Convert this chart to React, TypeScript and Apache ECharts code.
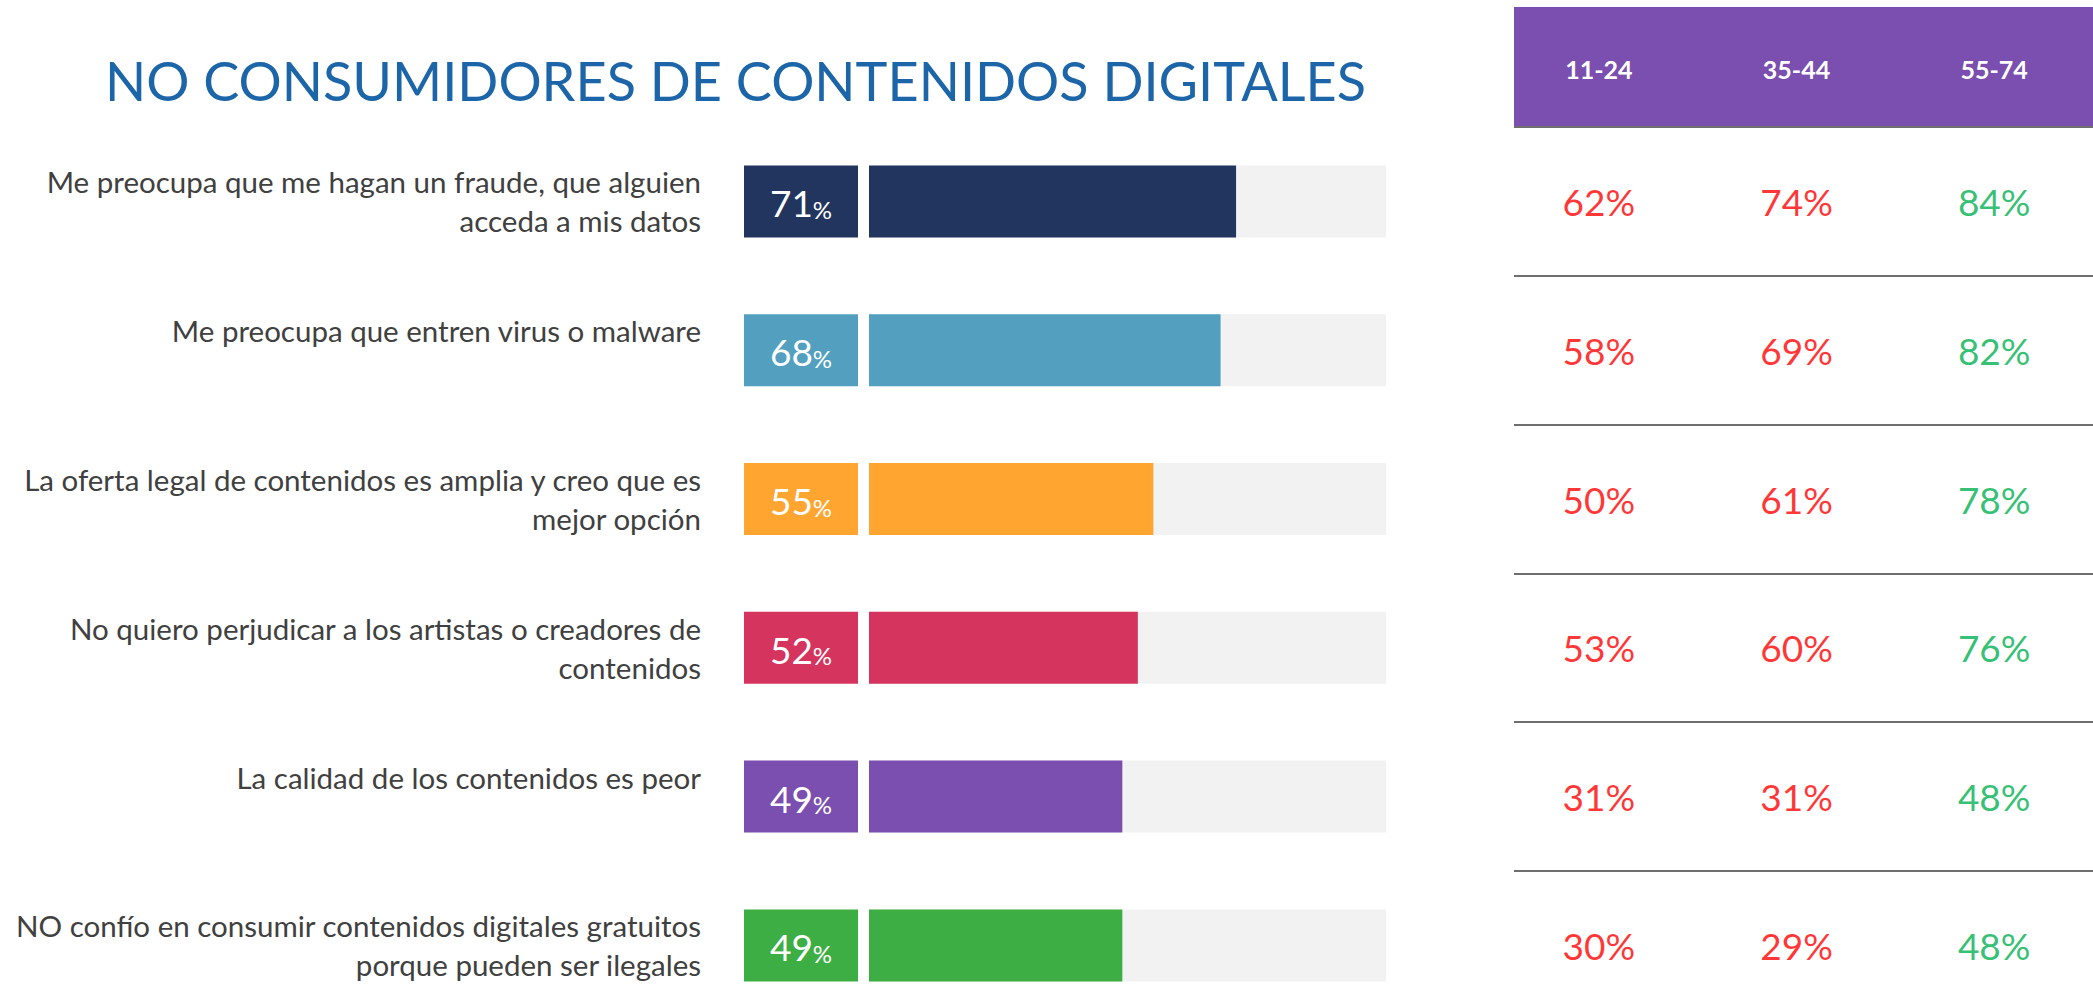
import React, { useEffect, useRef } from "react";
import * as echarts from "echarts";

const titleText = "NO CONSUMIDORES DE CONTENIDOS DIGITALES";
const categories = [
  "Me preocupa que me hagan un fraude, que alguien\nacceda a mis datos",
  "Me preocupa que entren virus o malware",
  "La oferta legal de contenidos es amplia y creo que es\nmejor opción",
  "No quiero perjudicar a los artistas o creadores de\ncontenidos",
  "La calidad de los contenidos es peor",
  "NO confío en consumir contenidos digitales gratuitos\nporque pueden ser ilegales",
];
const overall = [71, 68, 55, 52, 49, 49];
const barColors = ["#22355E", "#529FC0", "#FFA530", "#D5345E", "#7B4FAF", "#3DAE44"];
const ageGroups = ["11-24", "35-44", "55-74"];
const age1124 = [62, 58, 50, 53, 31, 30];
const age3544 = [74, 69, 61, 60, 31, 29];
const age5574 = [84, 82, 78, 76, 48, 48];
const ageValues = [age1124, age3544, age5574];
const ageColors = ["#FF0000", "#FF0000", "#00B050"];

const FONT = "Lato";
const TOP = 127;
const H = 892.8;

export default function App() {
  const ref = useRef<HTMLDivElement>(null);
  useEffect(() => {
    if (!ref.current) return;
    const chart = echarts.init(ref.current, undefined, { renderer: "svg" });
    const option: any = {
      animation: false,
      backgroundColor: "#ffffff",
      textStyle: { fontFamily: FONT },
      title: {
        text: titleText,
        left: 105,
        top: 53,
        padding: 0,
        textStyle: { fontFamily: FONT, fontSize: 54, fontWeight: "normal", color: "#1B65A8" },
      },
      graphic: [
        {
          type: "rect",
          z: -1,
          shape: { x: 1514, y: 7, width: 579, height: 120 },
          style: { fill: "#7B4FAF" },
        },
      ],
      grid: [
        { left: 869, top: TOP, width: 517, height: H },
        { left: 744, top: TOP, width: 114, height: H },
        { left: 1500, top: TOP, width: 606, height: H },
        { left: 1514, top: TOP, width: 579, height: H },
      ],
      xAxis: [
        { gridIndex: 0, type: "value", min: 0, max: 100, show: false },
        { gridIndex: 1, type: "value", min: 0, max: 1, show: false },
        {
          gridIndex: 2,
          type: "category",
          data: ageGroups,
          position: "top",
          axisLine: { show: false },
          axisTick: { show: false },
          axisLabel: {
            color: "#ffffff",
            fontWeight: "bold",
            fontSize: 25,
            fontFamily: FONT,
            margin: 58,
            verticalAlign: "middle",
          },
        },
        { gridIndex: 3, type: "value", min: 0, max: 1, show: false },
      ],
      yAxis: [
        {
          gridIndex: 0,
          type: "category",
          data: categories,
          inverse: true,
          axisLine: { show: false },
          axisTick: { show: false },
          axisLabel: {
            margin: 168,
            fontSize: 29.5,
            lineHeight: 39,
            padding: [0, 0, 10, 0],
            color: "#404040",
            fontFamily: FONT,
            align: "right",
            formatter: (v: string) => (v.indexOf("\n") >= 0 ? v : v + "\n "),
          },
        },
        { gridIndex: 1, type: "category", data: categories, inverse: true, show: false },
        { gridIndex: 2, type: "category", data: categories, inverse: true, show: false },
        {
          gridIndex: 3,
          type: "category",
          data: categories,
          inverse: true,
          axisLine: { show: false },
          axisTick: { show: false },
          axisLabel: { show: false },
          splitLine: { show: true, lineStyle: { color: "#6E6E6E", width: 2 } },
        },
      ],
      series: [
        {
          type: "bar",
          xAxisIndex: 0,
          yAxisIndex: 0,
          barWidth: 72,
          showBackground: true,
          backgroundStyle: { color: "#F2F2F2" },
          data: overall.map((v, i) => ({ value: v, itemStyle: { color: barColors[i] } })),
        },
        {
          type: "bar",
          xAxisIndex: 1,
          yAxisIndex: 1,
          barWidth: 72,
          data: overall.map((v, i) => ({ value: 1, itemStyle: { color: barColors[i] } })),
          label: {
            show: true,
            position: "inside",
            formatter: (p: any) => `{n|${overall[p.dataIndex]}}{p|%}`,
            rich: {
              n: { fontSize: 37, color: "#ffffff", fontFamily: FONT, verticalAlign: "bottom", lineHeight: 40 },
              p: { fontSize: 24, color: "#ffffff", fontFamily: FONT, verticalAlign: "bottom", lineHeight: 36 },
            },
          },
        },
        ...ageValues.map((arr, k) => ({
          type: "scatter",
          xAxisIndex: 2,
          yAxisIndex: 2,
          symbolSize: 1,
          itemStyle: { color: "rgba(0,0,0,0)" },
          data: arr.map((v, i) => [k, i, v]),
          label: {
            show: true,
            position: "inside",
            formatter: (p: any) => `${p.value[2]}%`,
            fontSize: 37,
            fontFamily: FONT,
            color: ageColors[k],
          },
        })),
      ],
    };
    chart.setOption(option);
    return () => chart.dispose();
  }, []);
  return (
    <div
      style={{
        position: "absolute",
        left: 0,
        top: 0,
        width: 2093,
        height: 988,
        overflow: "hidden",
        background: "#ffffff",
      }}
    >
      <div ref={ref} style={{ width: 2093, height: 1030 }} />
    </div>
  );
}
